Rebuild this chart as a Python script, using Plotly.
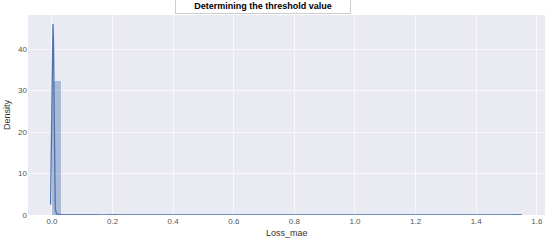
import numpy as np
import plotly.graph_objects as go

# histogram (seaborn distplot style): bin edges 0 .. 1.55, 50 bins
bin_lo = 0.0
bin_hi = 1.55
n_bins = 50
hist_density = [32.2, 0.04, 0.02, 0.01, 0.01, 0.0, 0.01, 0.0, 0.0, 0.0,
                0.0, 0.0, 0.0, 0.0, 0.0, 0.0, 0.0, 0.0, 0.0, 0.0,
                0.0, 0.0, 0.0, 0.0, 0.0, 0.0, 0.0, 0.0, 0.0, 0.0,
                0.0, 0.0, 0.0, 0.0, 0.0, 0.0, 0.0, 0.0, 0.0, 0.0,
                0.0, 0.0, 0.0, 0.0, 0.0, 0.0, 0.0, 0.0, 0.0, 0.01]

# kde curve
kde_x = [-0.0045, -0.002, 0.0, 0.002, 0.0035, 0.005, 0.007, 0.009, 0.011, 0.015,
         0.03, 0.1, 0.4, 0.8, 1.2, 1.55]
kde_y = [2.5, 14.0, 28.0, 40.0, 46.0, 42.0, 25.0, 8.0, 1.5, 0.3,
         0.05, 0.01, 0.0, 0.0, 0.0, 0.01]

x_ticks = [0.0, 0.2, 0.4, 0.6, 0.8, 1.0, 1.2, 1.4, 1.6]
y_ticks = [0, 10, 20, 30, 40]

blue = '#4C72B0'
width = (bin_hi - bin_lo) / n_bins
centers = [bin_lo + width * (i + 0.5) for i in range(n_bins)]

fig = go.Figure()
fig.add_trace(go.Bar(x=centers, y=hist_density, width=width,
                     marker=dict(color=blue, opacity=0.4, line=dict(width=0)),
                     showlegend=False))
fig.add_trace(go.Scatter(x=kde_x, y=kde_y, mode='lines',
                         line=dict(color=blue, width=1.3), showlegend=False))

fnt = 'Liberation Sans, Arial'
axis_font = dict(family=fnt, size=8, color='#555555')
fig.update_xaxes(range=[-0.079, 1.627], tickvals=x_ticks,
                 ticktext=[f'{v:.1f}' for v in x_ticks],
                 showgrid=True, gridcolor='#f8f8fb', gridwidth=1, zeroline=False,
                 showline=False, tickfont=axis_font, ticks='', automargin=False)
fig.update_yaxes(range=[0, 48.2], tickvals=y_ticks,
                 showgrid=True, gridcolor='#f8f8fb', gridwidth=1, zeroline=False,
                 showline=False, tickfont=axis_font, ticks='', automargin=False)

fig.add_annotation(text='Loss_mae', xref='paper', yref='paper', x=0.5, y=0,
                   yanchor='top', yshift=-11, showarrow=False,
                   font=dict(family=fnt, size=9, color='#333333'))
fig.add_annotation(text='Density', xref='paper', yref='paper', x=0, y=0.5,
                   xanchor='right', xshift=-14, textangle=-90, showarrow=False,
                   font=dict(family=fnt, size=9, color='#333333'))

fig.add_annotation(text='<b>Determining the threshold value</b>', xref='paper', yref='paper',
                   x=0.455, y=1.0, yanchor='bottom', yshift=1, showarrow=False,
                   font=dict(family=fnt, size=9, color='black'),
                   bgcolor='white', bordercolor='#cccccc', borderwidth=1, borderpad=2,
                   width=170)

fig.update_layout(width=550, height=244, margin=dict(l=28, r=5, t=15, b=29),
                  plot_bgcolor='#EAEAF2', paper_bgcolor='white', bargap=0)

fig.write_html('out.html', config={'displayModeBar': False},
               post_script="document.body.style.margin='0';")
